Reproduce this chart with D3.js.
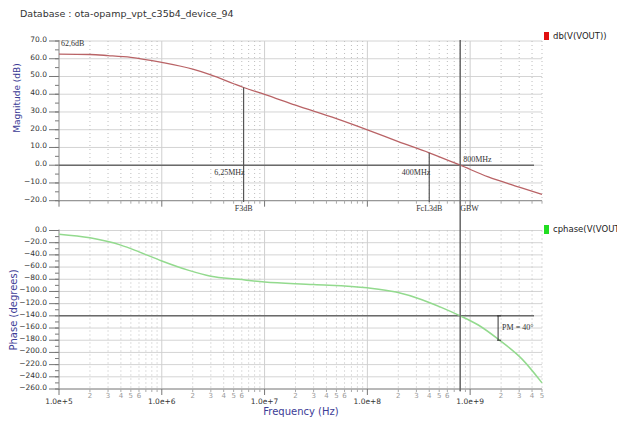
<!DOCTYPE html>
<html><head><meta charset="utf-8">
<script src="https://cdn.jsdelivr.net/npm/d3@7"></script>
<style>body{margin:0;background:#fff;}svg{display:block;}</style>
</head><body>
<svg id="c" width="617" height="421"></svg>
<script>
// ---- data ----
const title = "Database : ota-opamp_vpt_c35b4_device_94";
const magFreq = [1e5,2e5,3e5,5e5,1e6,2e6,3e6,5e6,6.25e6,1e7,2e7,5e7,1e8,2e8,4e8,8e8,1.5e9,3e9,5e9];
const magDb   = [62.6,62.4,61.8,60.8,57.9,54.1,50.9,45.9,43.8,39.9,33.8,26.2,19.9,13.3,7.0,0,-6.6,-12.3,-16.5];
const phFreq  = [1e5,2e5,4e5,6e5,1e6,1.8e6,3e6,5.6e6,1e7,3e7,1e8,1.9e8,3.4e8,5.3e8,8e8,1.2e9,1.9e9,3.2e9,5e9];
const phDeg   = [-6,-12,-24,-35,-50,-65,-75,-80,-84.5,-88.5,-94,-101,-113.5,-126.5,-140,-155,-179,-211,-250];
const magTicks = [70,60,50,40,30,20,10,0,-10,-20];
const phTicks  = [0,-20,-40,-60,-80,-100,-120,-140,-160,-180,-200,-220,-240,-260];
const decades  = [1e5,1e6,1e7,1e8,1e9];
const decadeLabels = ["1.0e+5","1.0e+6","1.0e+7","1.0e+8","1.0e+9"];
const minorMult = [2,3,4,5,6,7,8,9];
const minorLabelled = [2,3,4,5,6];
const markerNames = ["F3dB","FcL3dB"];
const markerFreqs = [6.25e6,4e8];
const markerDb    = [43.8,7.0];
const markerTexts = ["6,25MHz","400MHz"];
const gbwFreq = 8e8, gbwText = "800MHz", gbwName = "GBW";
const dcGainText = "62,6dB";
const pmFreq = 1.87e9, pmFrom = -140, pmTo = -180, pmText = "PM = 40\u00b0";
const legendMag = "db(V(VOUT))", legendPh = "cphase(V(VOUT))";

// ---- scales ----
const svg = d3.select("#c");
const x = d3.scaleLog().domain([1e5,5e9]).range([59,542]);
const yM = d3.scaleLinear().domain([-20,70]).range([200.7,41]);
const yP = d3.scaleLinear().domain([-260,0]).range([389,230.5]);
const xEnd = 534;
const sans = "DejaVu Sans, Verdana, sans-serif";
const serif = "Liberation Serif, Times New Roman, serif";

svg.append("text").attr("x",20).attr("y",17).attr("font-family",sans)
  .attr("font-size",9.5).attr("fill","#333").text(title);

const minorFreqs = [];
decades.forEach(d=>minorMult.forEach(m=>{ if(d*m<=5e9) minorFreqs.push(d*m); }));

function panel(y, ticks, minorStep, label, labelY) {
  const g = svg.append("g");
  const [y0,y1] = y.range();
  g.selectAll(".hg").data(ticks).join("line")
    .attr("x1",59).attr("x2",542).attr("y1",d=>y(d)).attr("y2",d=>y(d))
    .attr("stroke","#d4d4d4").attr("stroke-width",1);
  g.selectAll(".vm").data(minorFreqs).join("line")
    .attr("x1",d=>x(d)).attr("x2",d=>x(d)).attr("y1",y1).attr("y2",y0)
    .attr("stroke","#bdbdbd").attr("stroke-dasharray","1,3");
  g.selectAll(".vd").data(decades.slice(1)).join("line")
    .attr("x1",d=>x(d)).attr("x2",d=>x(d)).attr("y1",y1).attr("y2",y0)
    .attr("stroke","#cfcfcf");
  const dom = y.domain();
  const minor = d3.range(dom[0], dom[1]+0.001, minorStep);
  g.selectAll(".mt").data(minor).join("line")
    .attr("x1",55).attr("x2",59).attr("y1",d=>y(d)).attr("y2",d=>y(d)).attr("stroke","#777");
  g.selectAll(".Mt").data(ticks).join("line")
    .attr("x1",49).attr("x2",59).attr("y1",d=>y(d)).attr("y2",d=>y(d)).attr("stroke","#777");
  g.selectAll(".tl").data(ticks).join("text")
    .attr("x",47).attr("y",d=>y(d)+1).attr("text-anchor","end")
    .attr("font-family",sans).attr("font-size",7.5).attr("fill","#333")
    .text(d=>d3.format(".1f")(d));
  g.append("line").attr("x1",59).attr("x2",59).attr("y1",y1-1).attr("y2",y0+1).attr("stroke","#888");
  g.append("line").attr("x1",59).attr("x2",542).attr("y1",y0).attr("y2",y0).attr("stroke","#888");
  g.selectAll(".xd").data(decades).join("line")
    .attr("x1",d=>x(d)).attr("x2",d=>x(d)).attr("y1",y0).attr("y2",y0+6).attr("stroke","#777");
  g.selectAll(".xm").data(minorFreqs).join("line")
    .attr("x1",d=>x(d)).attr("x2",d=>x(d)).attr("y1",y0).attr("y2",y0+3).attr("stroke","#aaa");
  g.append("text").attr("transform",`translate(${label.x},${labelY}) rotate(-90)`)
    .attr("text-anchor","middle").attr("font-family",sans).attr("font-size",label.size)
    .attr("fill","#3c3c96").text(label.text);
  return g;
}
panel(yM, magTicks, 5, {text:"Magnitude (dB)",x:20,size:9}, 98);
panel(yP, phTicks, 10, {text:"Phase (degrees)",x:17,size:10}, 310);

svg.selectAll(".dl").data(decades).join("text")
  .attr("x",d=>x(d)).attr("y",404).attr("text-anchor","middle")
  .attr("font-family",sans).attr("font-size",7.5).attr("fill","#333")
  .text((d,i)=>decadeLabels[i]);
const minorLab = [];
decades.forEach(d=>minorLabelled.forEach(m=>{ if(d*m<=5e9) minorLab.push({f:d*m,m}); }));
svg.selectAll(".ml").data(minorLab).join("text")
  .attr("x",d=>x(d.f)).attr("y",398).attr("text-anchor","middle")
  .attr("font-family",sans).attr("font-size",7).attr("fill","#999").text(d=>d.m);
svg.append("text").attr("x",301).attr("y",415).attr("text-anchor","middle")
  .attr("font-family",sans).attr("font-size",10).attr("fill","#3c3c96").text("Frequency (Hz)");

svg.append("line").attr("x1",59).attr("x2",xEnd).attr("y1",yM(0)).attr("y2",yM(0))
  .attr("stroke","#6a6a6a").attr("stroke-width",1.5);
svg.append("line").attr("x1",59).attr("x2",xEnd).attr("y1",yP(-140)).attr("y2",yP(-140))
  .attr("stroke","#6a6a6a").attr("stroke-width",1.5);

const magData = magFreq.map((f,i)=>[f,magDb[i]]);
const phData = phFreq.map((f,i)=>[f,phDeg[i]]);
svg.append("path").datum(magData)
  .attr("d",d3.line().x(d=>x(d[0])).y(d=>yM(d[1])).curve(d3.curveMonotoneX))
  .attr("fill","none").attr("stroke","#b96366").attr("stroke-width",1.3);
svg.append("path").datum(phData)
  .attr("d",d3.line().x(d=>x(d[0])).y(d=>yP(d[1])).curve(d3.curveMonotoneX))
  .attr("fill","none").attr("stroke","#93da8e").attr("stroke-width",1.5);

markerFreqs.forEach((f,i)=>{
  svg.append("line").attr("x1",x(f)).attr("x2",x(f)).attr("y1",yM(markerDb[i])).attr("y2",202)
    .attr("stroke","#555").attr("stroke-width",1.2);
  svg.append("text").attr("x",x(f)+1).attr("y",175).attr("text-anchor","end")
    .attr("font-family",serif).attr("font-size",8).attr("fill","#333").text(markerTexts[i]);
  svg.append("text").attr("x",x(f)).attr("y",211).attr("text-anchor","middle")
    .attr("font-family",serif).attr("font-size",8).attr("fill","#333").text(markerNames[i]);
});
svg.append("line").attr("x1",x(gbwFreq)).attr("x2",x(gbwFreq)).attr("y1",40).attr("y2",391)
  .attr("stroke","#666").attr("stroke-width",1.5);
svg.append("text").attr("x",x(gbwFreq)+3).attr("y",162)
  .attr("font-family",serif).attr("font-size",8).attr("fill","#333").text(gbwText);
svg.append("text").attr("x",x(gbwFreq)).attr("y",211)
  .attr("font-family",serif).attr("font-size",8).attr("fill","#333").text(gbwName);
svg.append("text").attr("x",61).attr("y",46)
  .attr("font-family",serif).attr("font-size",8).attr("fill","#333").text(dcGainText);

const px = x(pmFreq);
svg.append("line").attr("x1",px).attr("x2",px).attr("y1",yP(pmFrom)).attr("y2",yP(pmTo))
  .attr("stroke","#333").attr("stroke-width",1);
[pmFrom,pmTo].forEach(v=>svg.append("line").attr("x1",px-1).attr("x2",px+3)
  .attr("y1",yP(v)).attr("y2",yP(v)).attr("stroke","#333"));
svg.append("text").attr("x",px+4).attr("y",yP(-160)+2)
  .attr("font-family",serif).attr("font-size",8).attr("fill","#333").text(pmText);

svg.append("rect").attr("x",544).attr("y",32).attr("width",5).attr("height",8).attr("fill","#e01010");
svg.append("text").attr("x",553).attr("y",39).attr("font-family",sans).attr("font-size",8.5)
  .attr("fill","#222").text(legendMag);
svg.append("rect").attr("x",544).attr("y",225).attr("width",5).attr("height",9).attr("fill","#22dd22");
svg.append("text").attr("x",553).attr("y",232).attr("font-family",sans).attr("font-size",8.5)
  .attr("fill","#222").text(legendPh);
</script>
</body></html>
